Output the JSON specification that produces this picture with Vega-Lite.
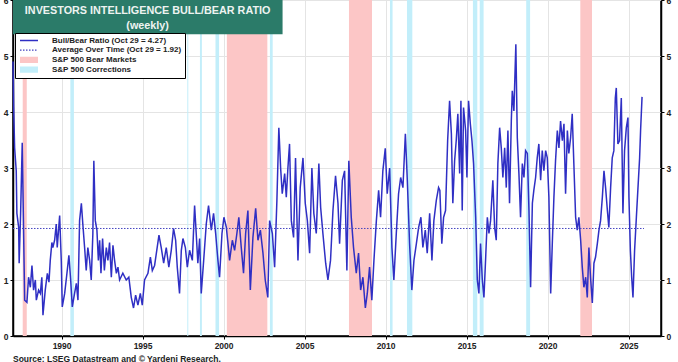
{
  "$schema": "https://vega.github.io/schema/vega-lite/v6.json",
  "width": 648,
  "height": 336,
  "autosize": {"type": "none"},
  "padding": {"left": 13, "top": 0, "right": 17, "bottom": 26},
  "background": "white",
  "title": {
    "text": "Source: LSEG Datastream and © Yardeni Research.",
    "orient": "bottom",
    "anchor": "start",
    "frame": "group",
    "offset": 5,
    "fontSize": 8.5,
    "fontWeight": "bold",
    "color": "#222222",
    "font": "Liberation Sans"
  },
  "config": {
    "font": "Liberation Sans",
    "view": {"stroke": "#000000", "strokeWidth": 1.5},
    "axis": {
      "domainColor": "#000000",
      "domainWidth": 1.5,
      "tickColor": "#000000",
      "tickSize": 3,
      "labelFontSize": 8.5,
      "labelFontWeight": "bold",
      "labelColor": "#222222",
      "labelPadding": 2,
      "gridColor": "#e4e4e4",
      "gridWidth": 1
    }
  },
  "datasets": {
    "ratio": [
      {"year": 1987.00, "ratio": 4.9}, {"year": 1987.04, "ratio": 4.1}, {"year": 1987.10, "ratio": 3.36},
      {"year": 1987.20, "ratio": 2.95}, {"year": 1987.24, "ratio": 2.19}, {"year": 1987.35, "ratio": 1.94},
      {"year": 1987.38, "ratio": 1.3}, {"year": 1987.47, "ratio": 2.19}, {"year": 1987.57, "ratio": 3.45},
      {"year": 1987.65, "ratio": 1.94}, {"year": 1987.72, "ratio": 0.64}, {"year": 1987.86, "ratio": 0.6},
      {"year": 1987.96, "ratio": 1.05}, {"year": 1988.07, "ratio": 0.87}, {"year": 1988.17, "ratio": 1.26},
      {"year": 1988.27, "ratio": 0.82}, {"year": 1988.38, "ratio": 1.0}, {"year": 1988.44, "ratio": 0.64},
      {"year": 1988.58, "ratio": 0.82}, {"year": 1988.69, "ratio": 0.76}, {"year": 1988.78, "ratio": 1.05},
      {"year": 1988.85, "ratio": 0.37}, {"year": 1988.99, "ratio": 0.82}, {"year": 1989.12, "ratio": 1.12},
      {"year": 1989.22, "ratio": 0.96}, {"year": 1989.30, "ratio": 1.35}, {"year": 1989.40, "ratio": 1.67},
      {"year": 1989.46, "ratio": 1.58}, {"year": 1989.57, "ratio": 1.71}, {"year": 1989.67, "ratio": 2.0},
      {"year": 1989.73, "ratio": 1.58}, {"year": 1989.88, "ratio": 2.15}, {"year": 1989.98, "ratio": 1.35},
      {"year": 1990.04, "ratio": 0.52}, {"year": 1990.19, "ratio": 0.76}, {"year": 1990.33, "ratio": 1.12},
      {"year": 1990.45, "ratio": 1.44}, {"year": 1990.56, "ratio": 1.0}, {"year": 1990.66, "ratio": 0.52},
      {"year": 1990.80, "ratio": 0.76}, {"year": 1990.91, "ratio": 0.94}, {"year": 1991.01, "ratio": 0.64},
      {"year": 1991.11, "ratio": 2.06}, {"year": 1991.22, "ratio": 2.37}, {"year": 1991.31, "ratio": 2.0},
      {"year": 1991.42, "ratio": 1.58}, {"year": 1991.52, "ratio": 1.17}, {"year": 1991.62, "ratio": 1.58},
      {"year": 1991.73, "ratio": 1.35}, {"year": 1991.83, "ratio": 1.0}, {"year": 1991.93, "ratio": 1.83},
      {"year": 1991.99, "ratio": 3.13}, {"year": 1992.08, "ratio": 2.06}, {"year": 1992.18, "ratio": 1.89},
      {"year": 1992.27, "ratio": 1.35}, {"year": 1992.35, "ratio": 1.71}, {"year": 1992.43, "ratio": 1.12},
      {"year": 1992.53, "ratio": 1.74}, {"year": 1992.64, "ratio": 1.17}, {"year": 1992.76, "ratio": 1.58},
      {"year": 1992.86, "ratio": 1.35}, {"year": 1992.96, "ratio": 1.67}, {"year": 1993.07, "ratio": 1.05},
      {"year": 1993.17, "ratio": 1.62}, {"year": 1993.27, "ratio": 1.35}, {"year": 1993.38, "ratio": 1.12},
      {"year": 1993.48, "ratio": 1.23}, {"year": 1993.58, "ratio": 1.0}, {"year": 1993.78, "ratio": 1.12},
      {"year": 1993.99, "ratio": 1.0}, {"year": 1994.15, "ratio": 1.05}, {"year": 1994.30, "ratio": 0.69},
      {"year": 1994.44, "ratio": 0.5}, {"year": 1994.57, "ratio": 0.73}, {"year": 1994.71, "ratio": 0.55},
      {"year": 1994.86, "ratio": 0.76}, {"year": 1994.98, "ratio": 0.55}, {"year": 1995.12, "ratio": 1.0},
      {"year": 1995.33, "ratio": 1.12}, {"year": 1995.48, "ratio": 1.41}, {"year": 1995.60, "ratio": 1.17},
      {"year": 1995.74, "ratio": 1.26}, {"year": 1995.85, "ratio": 1.48}, {"year": 1996.01, "ratio": 1.8},
      {"year": 1996.15, "ratio": 1.58}, {"year": 1996.30, "ratio": 1.3}, {"year": 1996.46, "ratio": 1.58},
      {"year": 1996.62, "ratio": 1.23}, {"year": 1996.77, "ratio": 1.53}, {"year": 1996.91, "ratio": 1.92},
      {"year": 1997.04, "ratio": 1.71}, {"year": 1997.14, "ratio": 1.23}, {"year": 1997.28, "ratio": 0.76},
      {"year": 1997.39, "ratio": 1.53}, {"year": 1997.49, "ratio": 1.74}, {"year": 1997.64, "ratio": 1.58},
      {"year": 1997.76, "ratio": 1.23}, {"year": 1997.90, "ratio": 1.53}, {"year": 1998.07, "ratio": 1.35},
      {"year": 1998.21, "ratio": 2.33}, {"year": 1998.31, "ratio": 1.83}, {"year": 1998.41, "ratio": 1.3},
      {"year": 1998.52, "ratio": 1.74}, {"year": 1998.62, "ratio": 0.76}, {"year": 1998.77, "ratio": 1.35},
      {"year": 1998.93, "ratio": 2.0}, {"year": 1999.07, "ratio": 2.33}, {"year": 1999.24, "ratio": 1.89},
      {"year": 1999.38, "ratio": 2.19}, {"year": 1999.51, "ratio": 1.83}, {"year": 1999.65, "ratio": 1.35},
      {"year": 1999.75, "ratio": 1.05}, {"year": 1999.90, "ratio": 1.83}, {"year": 2000.02, "ratio": 2.12},
      {"year": 2000.17, "ratio": 1.94}, {"year": 2000.27, "ratio": 1.65}, {"year": 2000.37, "ratio": 1.35},
      {"year": 2000.54, "ratio": 1.71}, {"year": 2000.68, "ratio": 1.53}, {"year": 2000.82, "ratio": 1.83},
      {"year": 2000.94, "ratio": 2.12}, {"year": 2001.09, "ratio": 1.58}, {"year": 2001.23, "ratio": 1.12},
      {"year": 2001.36, "ratio": 1.83}, {"year": 2001.50, "ratio": 2.24}, {"year": 2001.65, "ratio": 0.82},
      {"year": 2001.81, "ratio": 1.76}, {"year": 2001.98, "ratio": 2.28}, {"year": 2002.12, "ratio": 1.71},
      {"year": 2002.27, "ratio": 1.89}, {"year": 2002.43, "ratio": 1.48}, {"year": 2002.57, "ratio": 1.0},
      {"year": 2002.73, "ratio": 0.69}, {"year": 2002.84, "ratio": 2.06}, {"year": 2003.01, "ratio": 1.83},
      {"year": 2003.15, "ratio": 1.23}, {"year": 2003.29, "ratio": 2.42}, {"year": 2003.41, "ratio": 3.72},
      {"year": 2003.52, "ratio": 3.0}, {"year": 2003.62, "ratio": 2.54}, {"year": 2003.77, "ratio": 2.9},
      {"year": 2003.87, "ratio": 2.48}, {"year": 2003.97, "ratio": 3.0}, {"year": 2004.07, "ratio": 3.43},
      {"year": 2004.18, "ratio": 2.06}, {"year": 2004.32, "ratio": 1.76}, {"year": 2004.44, "ratio": 3.18},
      {"year": 2004.59, "ratio": 1.35}, {"year": 2004.73, "ratio": 2.65}, {"year": 2004.90, "ratio": 3.18},
      {"year": 2005.04, "ratio": 2.37}, {"year": 2005.17, "ratio": 2.06}, {"year": 2005.31, "ratio": 1.48},
      {"year": 2005.45, "ratio": 3.0}, {"year": 2005.57, "ratio": 2.19}, {"year": 2005.72, "ratio": 1.83},
      {"year": 2005.88, "ratio": 3.08}, {"year": 2005.99, "ratio": 2.3}, {"year": 2006.13, "ratio": 1.83},
      {"year": 2006.30, "ratio": 1.3}, {"year": 2006.44, "ratio": 1.0}, {"year": 2006.60, "ratio": 1.35},
      {"year": 2006.75, "ratio": 2.24}, {"year": 2006.91, "ratio": 2.86}, {"year": 2007.06, "ratio": 2.37},
      {"year": 2007.16, "ratio": 1.65}, {"year": 2007.33, "ratio": 2.78}, {"year": 2007.47, "ratio": 2.95},
      {"year": 2007.61, "ratio": 1.17}, {"year": 2007.73, "ratio": 3.13}, {"year": 2007.88, "ratio": 2.12},
      {"year": 2008.02, "ratio": 1.58}, {"year": 2008.19, "ratio": 1.12}, {"year": 2008.33, "ratio": 1.48},
      {"year": 2008.46, "ratio": 0.82}, {"year": 2008.60, "ratio": 1.05}, {"year": 2008.75, "ratio": 0.5},
      {"year": 2008.87, "ratio": 0.76}, {"year": 2009.01, "ratio": 1.23}, {"year": 2009.15, "ratio": 0.64},
      {"year": 2009.28, "ratio": 1.35}, {"year": 2009.43, "ratio": 2.06}, {"year": 2009.57, "ratio": 2.6},
      {"year": 2009.69, "ratio": 2.12}, {"year": 2009.83, "ratio": 2.95}, {"year": 2009.98, "ratio": 3.35},
      {"year": 2010.10, "ratio": 2.54}, {"year": 2010.25, "ratio": 3.0}, {"year": 2010.39, "ratio": 1.58},
      {"year": 2010.51, "ratio": 1.0}, {"year": 2010.66, "ratio": 1.83}, {"year": 2010.80, "ratio": 2.54},
      {"year": 2010.93, "ratio": 2.83}, {"year": 2011.07, "ratio": 2.65}, {"year": 2011.22, "ratio": 3.61},
      {"year": 2011.34, "ratio": 2.78}, {"year": 2011.48, "ratio": 1.65}, {"year": 2011.62, "ratio": 0.82},
      {"year": 2011.75, "ratio": 1.35}, {"year": 2011.90, "ratio": 1.65}, {"year": 2012.04, "ratio": 1.94},
      {"year": 2012.18, "ratio": 2.12}, {"year": 2012.30, "ratio": 1.58}, {"year": 2012.45, "ratio": 1.89},
      {"year": 2012.57, "ratio": 1.48}, {"year": 2012.72, "ratio": 2.19}, {"year": 2012.86, "ratio": 1.35},
      {"year": 2012.98, "ratio": 2.06}, {"year": 2013.13, "ratio": 2.42}, {"year": 2013.27, "ratio": 2.65},
      {"year": 2013.35, "ratio": 2.6}, {"year": 2013.47, "ratio": 1.65}, {"year": 2013.58, "ratio": 2.12},
      {"year": 2013.70, "ratio": 2.24}, {"year": 2013.83, "ratio": 3.49}, {"year": 2013.95, "ratio": 4.2},
      {"year": 2014.06, "ratio": 3.61}, {"year": 2014.15, "ratio": 2.37}, {"year": 2014.26, "ratio": 3.13},
      {"year": 2014.36, "ratio": 3.49}, {"year": 2014.46, "ratio": 3.97}, {"year": 2014.57, "ratio": 2.9},
      {"year": 2014.65, "ratio": 4.2}, {"year": 2014.73, "ratio": 2.24}, {"year": 2014.81, "ratio": 4.08},
      {"year": 2014.94, "ratio": 3.67}, {"year": 2015.02, "ratio": 2.83}, {"year": 2015.12, "ratio": 4.2},
      {"year": 2015.23, "ratio": 3.79}, {"year": 2015.33, "ratio": 3.49}, {"year": 2015.43, "ratio": 3.08},
      {"year": 2015.56, "ratio": 2.12}, {"year": 2015.66, "ratio": 1.0}, {"year": 2015.76, "ratio": 0.76},
      {"year": 2015.86, "ratio": 1.65}, {"year": 2015.97, "ratio": 1.0}, {"year": 2016.07, "ratio": 0.69},
      {"year": 2016.17, "ratio": 1.35}, {"year": 2016.28, "ratio": 2.12}, {"year": 2016.38, "ratio": 1.83},
      {"year": 2016.48, "ratio": 2.06}, {"year": 2016.62, "ratio": 2.78}, {"year": 2016.73, "ratio": 1.94},
      {"year": 2016.83, "ratio": 1.71}, {"year": 2016.93, "ratio": 3.08}, {"year": 2017.04, "ratio": 3.72},
      {"year": 2017.14, "ratio": 3.36}, {"year": 2017.24, "ratio": 2.83}, {"year": 2017.35, "ratio": 3.36},
      {"year": 2017.45, "ratio": 2.65}, {"year": 2017.55, "ratio": 3.67}, {"year": 2017.65, "ratio": 2.37},
      {"year": 2017.76, "ratio": 3.84}, {"year": 2017.82, "ratio": 4.38}, {"year": 2017.92, "ratio": 4.02},
      {"year": 2018.04, "ratio": 5.21}, {"year": 2018.13, "ratio": 3.54}, {"year": 2018.23, "ratio": 2.9},
      {"year": 2018.33, "ratio": 2.12}, {"year": 2018.44, "ratio": 3.08}, {"year": 2018.54, "ratio": 2.83},
      {"year": 2018.64, "ratio": 3.31}, {"year": 2018.75, "ratio": 3.26}, {"year": 2018.85, "ratio": 2.24},
      {"year": 2018.95, "ratio": 0.87}, {"year": 2019.06, "ratio": 2.37}, {"year": 2019.15, "ratio": 2.6},
      {"year": 2019.26, "ratio": 2.83}, {"year": 2019.36, "ratio": 3.18}, {"year": 2019.46, "ratio": 3.43},
      {"year": 2019.57, "ratio": 2.78}, {"year": 2019.67, "ratio": 3.31}, {"year": 2019.77, "ratio": 2.95},
      {"year": 2019.88, "ratio": 3.31}, {"year": 2019.98, "ratio": 3.18}, {"year": 2020.08, "ratio": 2.48},
      {"year": 2020.19, "ratio": 0.76}, {"year": 2020.29, "ratio": 1.65}, {"year": 2020.39, "ratio": 2.48},
      {"year": 2020.49, "ratio": 3.13}, {"year": 2020.60, "ratio": 3.67}, {"year": 2020.70, "ratio": 3.36},
      {"year": 2020.80, "ratio": 3.84}, {"year": 2020.91, "ratio": 3.49}, {"year": 2021.01, "ratio": 3.79},
      {"year": 2021.11, "ratio": 2.54}, {"year": 2021.22, "ratio": 3.67}, {"year": 2021.31, "ratio": 3.26},
      {"year": 2021.42, "ratio": 3.54}, {"year": 2021.52, "ratio": 3.97}, {"year": 2021.62, "ratio": 3.08},
      {"year": 2021.73, "ratio": 2.12}, {"year": 2021.83, "ratio": 1.89}, {"year": 2021.93, "ratio": 2.12},
      {"year": 2022.04, "ratio": 1.71}, {"year": 2022.14, "ratio": 1.23}, {"year": 2022.24, "ratio": 0.87},
      {"year": 2022.35, "ratio": 1.05}, {"year": 2022.45, "ratio": 0.69}, {"year": 2022.55, "ratio": 1.58},
      {"year": 2022.65, "ratio": 1.05}, {"year": 2022.76, "ratio": 0.59}, {"year": 2022.86, "ratio": 1.3},
      {"year": 2022.96, "ratio": 1.41}, {"year": 2023.07, "ratio": 1.65}, {"year": 2023.17, "ratio": 1.89},
      {"year": 2023.27, "ratio": 2.06}, {"year": 2023.38, "ratio": 2.48}, {"year": 2023.48, "ratio": 2.95},
      {"year": 2023.58, "ratio": 2.65}, {"year": 2023.69, "ratio": 2.24}, {"year": 2023.78, "ratio": 1.94},
      {"year": 2023.89, "ratio": 2.65}, {"year": 2023.99, "ratio": 3.18}, {"year": 2024.09, "ratio": 3.31},
      {"year": 2024.18, "ratio": 4.25}, {"year": 2024.24, "ratio": 4.43}, {"year": 2024.34, "ratio": 3.43},
      {"year": 2024.44, "ratio": 3.49}, {"year": 2024.55, "ratio": 4.25}, {"year": 2024.65, "ratio": 2.19},
      {"year": 2024.75, "ratio": 3.31}, {"year": 2024.86, "ratio": 3.72}, {"year": 2024.96, "ratio": 3.9},
      {"year": 2025.02, "ratio": 2.48}, {"year": 2025.11, "ratio": 1.53}, {"year": 2025.19, "ratio": 1.05},
      {"year": 2025.27, "ratio": 0.69}, {"year": 2025.37, "ratio": 1.53}, {"year": 2025.48, "ratio": 2.12},
      {"year": 2025.57, "ratio": 2.6}, {"year": 2025.68, "ratio": 3.18}, {"year": 2025.74, "ratio": 3.67},
      {"year": 2025.83, "ratio": 4.27}
    ],
    "average": [
      {"year": 1987.0, "avg": 1.92},
      {"year": 2025.95, "avg": 1.92}
    ],
    "bands": [
      {"start": 1987.60, "end": 1987.85, "kind": "S&P 500 Bear Markets"},
      {"start": 2000.20, "end": 2002.70, "kind": "S&P 500 Bear Markets"},
      {"start": 2007.74, "end": 2009.16, "kind": "S&P 500 Bear Markets"},
      {"start": 2022.02, "end": 2022.74, "kind": "S&P 500 Bear Markets"},
      {"start": 1990.54, "end": 1990.76, "kind": "S&P 500 Corrections"},
      {"start": 1997.76, "end": 1997.82, "kind": "S&P 500 Corrections"},
      {"start": 1998.54, "end": 1998.66, "kind": "S&P 500 Corrections"},
      {"start": 1999.50, "end": 1999.72, "kind": "S&P 500 Corrections"},
      {"start": 2002.86, "end": 2003.03, "kind": "S&P 500 Corrections"},
      {"start": 2010.27, "end": 2010.43, "kind": "S&P 500 Corrections"},
      {"start": 2011.32, "end": 2011.65, "kind": "S&P 500 Corrections"},
      {"start": 2015.39, "end": 2015.66, "kind": "S&P 500 Corrections"},
      {"start": 2015.81, "end": 2016.05, "kind": "S&P 500 Corrections"},
      {"start": 2018.68, "end": 2018.92, "kind": "S&P 500 Corrections"}
    ]
  },
  "resolve": {"axis": {"y": "independent"}},
  "layer": [
    {
      "data": {"name": "bands"},
      "mark": {"type": "rect", "opacity": 1},
      "encoding": {
        "x": {"field": "start", "type": "quantitative", "title": null,
              "scale": {"domain": [1987, 2027], "nice": false, "zero": false}},
        "x2": {"field": "end"},
        "color": {
          "field": "kind",
          "type": "nominal",
          "scale": {
            "domain": ["Bull/Bear Ratio (Oct 29 = 4.27)", "Average Over Time (Oct 29 = 1.92)", "S&P 500 Bear Markets", "S&P 500 Corrections"],
            "range": ["#2f2fc4", "#4444c0", "#fcc6c6", "#c2eefa"]
          },
          "legend": {
            "title": null,
            "orient": "none",
            "legendX": 2,
            "legendY": 33,
            "direction": "vertical",
            "padding": 3,
            "rowPadding": 0.7,
            "clipHeight": 9,
            "fillColor": "#ffffff",
            "strokeColor": "#000000",
            "symbolSize": 81,
            "symbolOffset": 7,
            "labelOffset": 19,
            "labelFontSize": 8,
            "labelFontWeight": "bold",
            "labelColor": "#222222",
            "labelLimit": 300,
            "encoding": {
              "symbols": {
                "shape": {"value": {"expr": "datum.index < 2 ? 'M-2,0H2' : 'M-2,-0.7H2V0.7H-2Z'"}},
                "fill": {"value": {"expr": "datum.index < 2 ? 'transparent' : scale('color', datum.value)"}},
                "stroke": {"value": {"expr": "datum.index < 2 ? scale('color', datum.value) : 'transparent'"}},
                "strokeWidth": {"value": {"expr": "datum.index < 2 ? 1.3 : 0"}},
                "strokeDash": {"value": {"expr": "datum.index == 1 ? [1.5, 1.5] : [1, 0]"}},
                "opacity": {"value": 1},
                "fillOpacity": {"value": 1},
                "strokeOpacity": {"value": 1}
              }
            }
          }
        }
      }
    },
    {
      "data": {"name": "ratio"},
      "mark": {"type": "line", "strokeWidth": 1.5, "interpolate": "linear"},
      "encoding": {
        "x": {"field": "year", "type": "quantitative", "title": null,
              "axis": {"values": [1990, 1995, 2000, 2005, 2010, 2015, 2020, 2025], "format": "d", "grid": true, "title": null}},
        "y": {"field": "ratio", "type": "quantitative", "title": null,
              "scale": {"domain": [0, 6], "nice": false},
              "axis": {"orient": "left", "values": [0, 1, 2, 3, 4, 5, 6], "grid": true, "title": null}},
        "color": {"datum": "Bull/Bear Ratio (Oct 29 = 4.27)"}
      }
    },
    {
      "data": {"name": "average"},
      "mark": {"type": "line", "strokeWidth": 1, "strokeDash": [1.5, 1.5]},
      "encoding": {
        "x": {"field": "year", "type": "quantitative", "title": null},
        "y": {"field": "avg", "type": "quantitative", "title": null,
              "axis": {"orient": "right", "values": [0, 1, 2, 3, 4, 5, 6], "grid": false, "title": null}},
        "color": {"datum": "Average Over Time (Oct 29 = 1.92)"}
      }
    },
    {
      "data": {"values": [{}]},
      "mark": {"type": "rect", "color": "#2b7b69"},
      "encoding": {
        "x": {"datum": 1987},
        "x2": {"datum": 2003.64},
        "y": {"datum": 6, "axis": null},
        "y2": {"datum": 5.39}
      }
    },
    {
      "data": {"values": [{}]},
      "mark": {"type": "text", "color": "#eef3f1", "fontSize": 10.8, "fontWeight": "bold", "align": "center", "baseline": "middle", "text": "INVESTORS INTELLIGENCE BULL/BEAR RATIO"},
      "encoding": {
        "x": {"datum": 1995.31},
        "y": {"datum": 5.81, "axis": null}
      }
    },
    {
      "data": {"values": [{}]},
      "mark": {"type": "text", "color": "#eef3f1", "fontSize": 10.8, "fontWeight": "bold", "align": "center", "baseline": "middle", "text": "(weekly)"},
      "encoding": {
        "x": {"datum": 1995.31},
        "y": {"datum": 5.54, "axis": null}
      }
    }
  ]
}
